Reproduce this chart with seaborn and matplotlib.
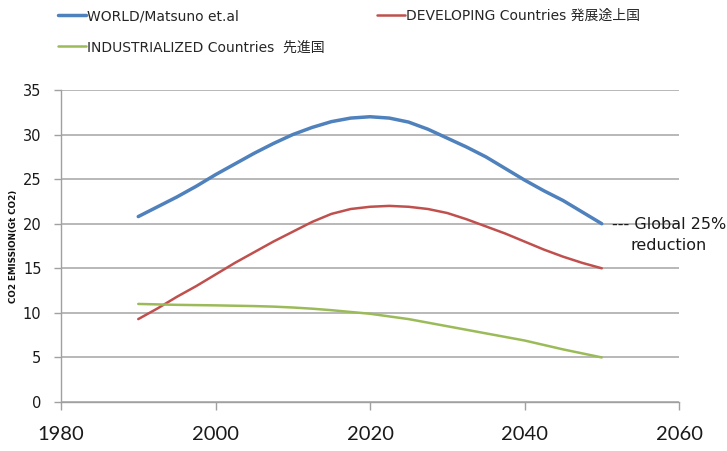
import matplotlib
matplotlib.use("Agg")
import matplotlib.pyplot as plt
import seaborn as sns
import pandas as pd

years = [1990, 1992.5, 1995, 1997.5, 2000, 2002.5, 2005, 2007.5, 2010, 2012.5, 2015, 2017.5, 2020,
         2022.5, 2025, 2027.5, 2030, 2032.5, 2035, 2037.5, 2040, 2042.5, 2045, 2047.5, 2050]
world = [20.8, 21.9, 23.0, 24.2, 25.5, 26.7, 27.9, 29.0, 30.0, 30.8, 31.45, 31.85, 32.0,
         31.85, 31.4, 30.6, 29.6, 28.6, 27.5, 26.2, 24.9, 23.7, 22.6, 21.3, 20.0]
developing = [9.3, 10.5, 11.8, 13.0, 14.3, 15.6, 16.8, 18.0, 19.1, 20.2, 21.1, 21.65, 21.9,
              22.0, 21.9, 21.65, 21.2, 20.5, 19.7, 18.9, 18.0, 17.1, 16.3, 15.6, 15.0]
industrialized = [11.0, 10.95, 10.9, 10.87, 10.84, 10.8, 10.76, 10.7, 10.6, 10.47, 10.3, 10.1, 9.9,
                  9.6, 9.3, 8.9, 8.5, 8.1, 7.7, 7.3, 6.9, 6.4, 5.9, 5.45, 5.0]

labels = ["WORLD/Matsuno et.al", "DEVELOPING Countries 発展途上国", "INDUSTRIALIZED Countries  先進国"]
colors = ["#4F81BD", "#C0504D", "#9BBB59"]
widths = [2.5, 1.8, 1.8]
yticks = [0, 5, 10, 15, 20, 25, 30, 35]
xticks = [1980, 2000, 2020, 2040, 2060]

sns.set_theme(style="white")
plt.rcParams['font.family'] = ['DejaVu Sans', 'Noto Sans CJK JP']

fig = plt.figure(figsize=(7.27, 4.51), dpi=100)
ax = fig.add_axes([61/727, 1-402/451, (679-61)/727, (402-90)/451])

series = [world, developing, industrialized]
handles = []
for vals, lab, c, w in zip(series, labels, colors, widths):
    df = pd.DataFrame({"year": years, "value": vals})
    sns.lineplot(data=df, x="year", y="value", ax=ax, color=c, linewidth=w, label=lab, legend=False)
    ln = ax.lines[-1]
    ln.set_solid_joinstyle("round")
    ln.set_solid_capstyle("round")
    handles.append(ln)

ax.set_xlim(1980, 2060)
ax.set_ylim(0, 35)
ax.set_xticks(xticks)
ax.set_yticks(yticks)
ax.set_xticklabels([str(x) for x in xticks], fontsize=14.5, color="#1a1a1a", family=['Lato', 'DejaVu Sans'])
ax.set_yticklabels([str(y) for y in yticks], fontsize=10.5, color="#1a1a1a")
ax.yaxis.grid(True, color="#ababab", linewidth=1.2)
ax.xaxis.grid(False)
for s in ["top", "right"]:
    ax.spines[s].set_visible(False)
for s in ["left", "bottom"]:
    ax.spines[s].set_color("#a0a0a0")
    ax.spines[s].set_linewidth(1.0)
ax.tick_params(axis="y", which="major", left=True, length=5, width=1, color="#a0a0a0", pad=9)
ax.tick_params(axis="x", which="major", bottom=True, length=6, width=1, color="#a0a0a0", pad=11)
ax.set_xlabel("")
ax.set_ylabel("CO2 EMISSION(Gt CO2)", fontsize=6.3, fontweight="bold", color="#111111")
ax.yaxis.set_label_coords(-(61-18)/618, 0.5)

fig.text(669/727, 1-235/451, "--- Global 25%\nreduction", ha="center", va="center",
         fontsize=11.5, color="#1a1a1a", linespacing=1.45, multialignment="center")

common = dict(loc="upper left", frameon=False, fontsize=10, handlelength=2.0,
              handletextpad=0.1, labelspacing=1.25, borderpad=0, borderaxespad=0)
leg1 = fig.legend([handles[0], handles[2]], [labels[0], labels[2]],
                  bbox_to_anchor=(58/727, 1-9/451), **common)
leg2 = fig.legend([handles[1]], [labels[1]],
                  bbox_to_anchor=(377/727, 1-9/451), **common)

fig.savefig("out.png", dpi=100)
